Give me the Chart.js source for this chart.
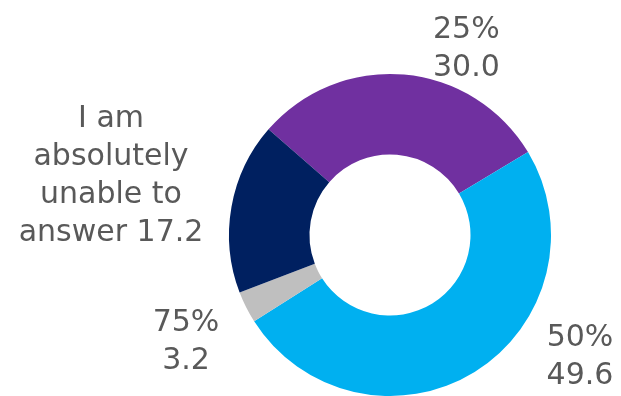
<!DOCTYPE html>
<html>
<head>
<meta charset="utf-8">
<script src="https://cdn.jsdelivr.net/npm/chart.js@4/dist/chart.umd.min.js"></script>
<style>
  html, body { margin: 0; padding: 0; background: #fff; }
  #wrap { width: 621px; height: 396px; position: relative; }
</style>
</head>
<body>
<div id="wrap"><canvas id="donut" width="621" height="396"></canvas></div>
<script>
// Datos del gráfico
const categorias = ["25%", "50%", "75%", "I am absolutely unable to answer"];
const valores = [30.0, 49.6, 3.2, 17.2];
const colores = ["#7030A0", "#00B0F0", "#BFBFBF", "#002060"];

// Posición de cada etiqueta; "cortes" = palabras por línea (null = categoría / valor)
const etiquetas = [
  { cortes: null, x: 433, y: 38, align: "left" },
  { cortes: null, x: 580, y: 346, align: "center" },
  { cortes: null, x: 186, y: 331, align: "center" },
  { cortes: [2, 1, 2, 2], x: 111, y: 127, align: "center" }
];

function armarLineas(texto, valor, cortes) {
  const v = valor.toFixed(1);
  if (!cortes) return [texto, v];
  const palabras = (texto + " " + v).split(" ");
  const lineas = [];
  let p = 0;
  cortes.forEach(n => {
    lineas.push(palabras.slice(p, p + n).join(" "));
    p += n;
  });
  return lineas;
}

const labelPlugin = {
  id: "etiquetasExternas",
  afterDraw(chart) {
    const ctx = chart.ctx;
    const ds = chart.data.datasets[0];
    ctx.save();
    ctx.fillStyle = "#595959";
    ctx.font = "30px 'DejaVu Sans', Verdana, sans-serif";
    ctx.textBaseline = "alphabetic";
    chart.data.labels.forEach((lab, i) => {
      const cfg = etiquetas[i];
      ctx.textAlign = cfg.align;
      armarLineas(lab, ds.data[i], cfg.cortes)
        .forEach((t, k) => ctx.fillText(t, cfg.x, cfg.y + k * 38));
    });
    ctx.restore();
  }
};

new Chart(document.getElementById("donut").getContext("2d"), {
  type: "doughnut",
  data: {
    labels: categorias,
    datasets: [{
      data: valores,
      backgroundColor: colores,
      borderWidth: 0,
      hoverOffset: 0
    }]
  },
  options: {
    responsive: false,
    animation: false,
    rotation: -49,
    cutout: "50%",
    radius: 161,
    layout: { padding: { left: 229, right: 70, top: 74, bottom: 0 } },
    plugins: {
      legend: { display: false },
      tooltip: { enabled: false }
    }
  },
  plugins: [labelPlugin]
});
</script>
</body>
</html>
